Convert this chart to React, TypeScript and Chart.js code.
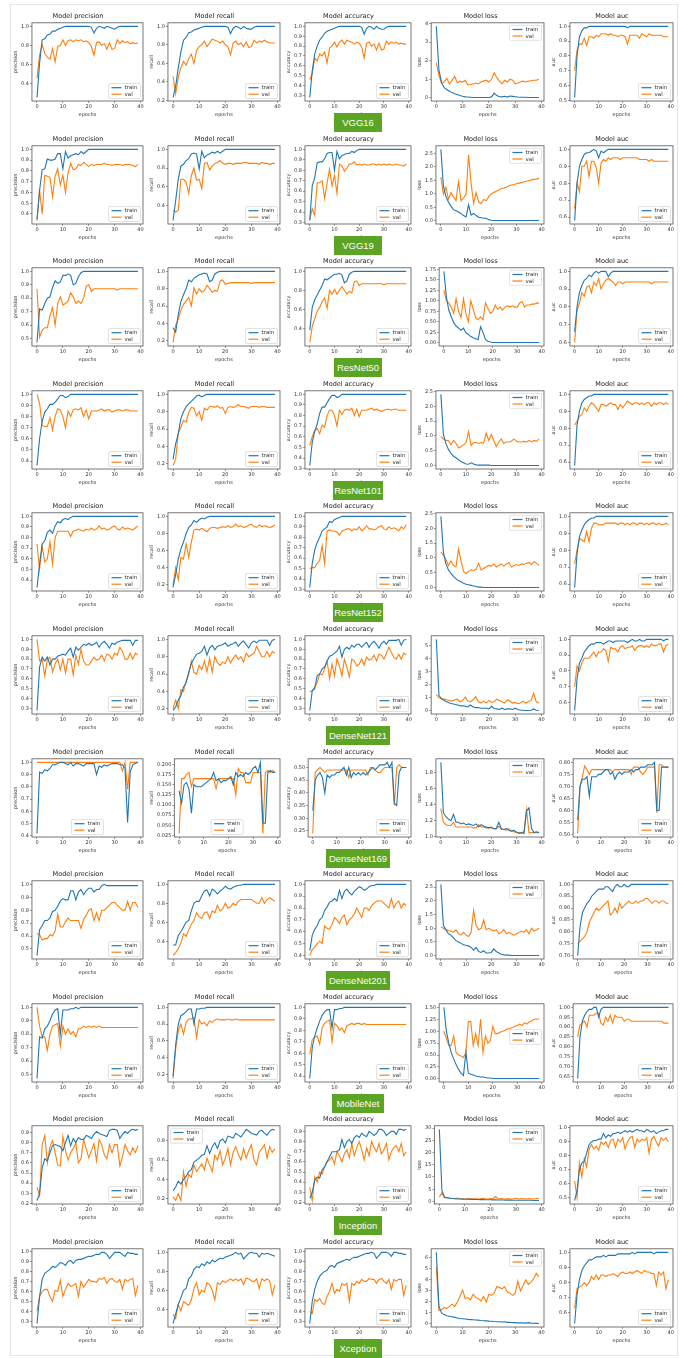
import React, { useEffect, useRef } from 'react';
import { Chart, registerables } from 'chart.js';
Chart.register(...registerables);

// ---------- categories / labels ----------
const MODELS = ['VGG16', 'VGG19', 'ResNet50', 'ResNet101', 'ResNet152', 'DenseNet121', 'DenseNet169', 'DenseNet201', 'MobileNet', 'Inception', 'Xception'];
const METRICS = ['precision', 'recall', 'accuracy', 'loss', 'auc'];
const SERIES = ['train', 'val'];
const EPOCH_TICKS = [0, 10, 20, 30, 40];

// ---------- VGG16 ----------
const v16PrecTrain = [0.26,0.62,0.86,0.87,0.91,0.92,0.95,0.95,0.97,0.98, 0.99,1.0,1.0,1.0,1.0,1.0,1.0,1.0,1.0,1.0, 1.0,0.99,0.93,0.98,1.0,0.99,0.98,1.0,0.99,0.98, 0.97,0.99,1.0,1.0,1.0,1.0,1.0,1.0,1.0,1.0];
const v16PrecVal = [0.46,0.70,0.81,0.72,0.68,0.66,0.77,0.63,0.79,0.80, 0.86,0.80,0.85,0.86,0.84,0.86,0.85,0.86,0.84,0.85, 0.83,0.79,0.70,0.83,0.84,0.80,0.82,0.76,0.83,0.76, 0.77,0.86,0.82,0.85,0.83,0.84,0.82,0.83,0.82,0.83];
const v16RecTrain = [0.23,0.35,0.55,0.72,0.85,0.88,0.93,0.94,0.96,0.97, 0.98,0.99,1.0,1.0,1.0,1.0,1.0,1.0,1.0,1.0, 1.0,0.99,0.92,0.98,1.0,0.99,0.97,1.0,0.98,0.97, 0.97,0.99,1.0,1.0,1.0,1.0,1.0,1.0,1.0,1.0];
const v16RecVal = [0.46,0.27,0.45,0.55,0.62,0.58,0.65,0.70,0.60,0.74, 0.78,0.80,0.84,0.78,0.82,0.86,0.85,0.84,0.82,0.84, 0.80,0.78,0.69,0.82,0.84,0.80,0.82,0.78,0.83,0.77, 0.78,0.85,0.82,0.84,0.83,0.85,0.83,0.82,0.82,0.82];
const v16AccTrain = [0.28,0.55,0.72,0.80,0.86,0.89,0.93,0.95,0.96,0.97, 0.98,0.99,1.0,1.0,1.0,1.0,1.0,1.0,1.0,1.0, 1.0,0.99,0.92,0.98,1.0,0.99,0.97,1.0,0.98,0.97, 0.97,0.99,1.0,1.0,1.0,1.0,1.0,1.0,1.0,1.0];
const v16AccVal = [0.46,0.52,0.68,0.65,0.72,0.70,0.74,0.63,0.78,0.80, 0.84,0.79,0.84,0.86,0.82,0.86,0.85,0.84,0.82,0.84, 0.83,0.79,0.68,0.83,0.84,0.80,0.82,0.76,0.83,0.76, 0.77,0.85,0.82,0.84,0.83,0.84,0.82,0.83,0.82,0.82];
const v16LossTrain = [3.85,1.5,0.8,0.55,0.45,0.35,0.28,0.22,0.18,0.12, 0.08,0.05,0.04,0.03,0.02,0.02,0.02,0.02,0.02,0.02, 0.02,0.05,0.25,0.12,0.06,0.05,0.08,0.04,0.1,0.08, 0.06,0.04,0.03,0.03,0.03,0.02,0.02,0.02,0.02,0.02];
const v16LossVal = [1.9,1.2,0.8,0.85,1.05,0.75,0.95,1.15,0.8,0.9, 0.85,0.95,0.7,0.72,0.75,0.8,0.75,0.85,0.9,0.95, 0.85,1.0,1.35,1.1,0.9,0.75,0.95,0.85,1.0,0.95, 0.75,0.8,0.85,0.9,0.85,0.9,0.92,0.95,0.95,1.0];
const v16AucTrain = [0.52,0.80,0.93,0.97,0.99,0.99,1.0,1.0,1.0,1.0, 1.0,1.0,1.0,1.0,1.0,1.0,1.0,1.0,1.0,1.0, 1.0,1.0,0.99,1.0,1.0,1.0,1.0,1.0,1.0,1.0, 1.0,1.0,1.0,1.0,1.0,1.0,1.0,1.0,1.0,1.0];
const v16AucVal = [0.70,0.84,0.88,0.88,0.92,0.87,0.93,0.93,0.92,0.94, 0.93,0.95,0.95,0.95,0.94,0.95,0.94,0.94,0.93,0.94, 0.94,0.93,0.88,0.94,0.94,0.94,0.94,0.92,0.95,0.94, 0.93,0.95,0.94,0.94,0.94,0.94,0.94,0.93,0.93,0.93];
const v16Ticks = [[0.4,0.6,0.8,1.0],[0.2,0.4,0.6,0.8,1.0],[0.3,0.4,0.5,0.6,0.7,0.8,0.9,1.0],[0,1,2,3,4],[0.5,0.6,0.7,0.8,0.9,1.0]];

// ---------- VGG19 ----------
const v19PrecTrain = [0.35,0.62,0.81,0.82,0.91,0.90,0.90,0.91,0.96,0.96, 0.82,0.98,0.92,0.94,0.95,0.96,0.95,0.98,0.96,0.98, 1.0,1.0,1.0,1.0,1.0,1.0,1.0,1.0,1.0,1.0, 1.0,1.0,1.0,1.0,1.0,1.0,1.0,1.0,1.0,1.0];
const v19PrecVal = [0.34,0.62,0.40,0.76,0.75,0.74,0.56,0.75,0.82,0.67, 0.76,0.60,0.78,0.87,0.81,0.82,0.86,0.85,0.88,0.86, 0.84,0.86,0.85,0.86,0.86,0.86,0.87,0.86,0.86,0.85, 0.86,0.86,0.86,0.85,0.86,0.86,0.86,0.85,0.84,0.86];
const v19RecTrain = [0.24,0.45,0.68,0.82,0.84,0.88,0.90,0.95,0.96,0.95, 0.79,0.98,0.91,0.94,0.95,0.97,0.96,0.98,0.96,0.98, 1.0,1.0,1.0,1.0,1.0,1.0,1.0,1.0,1.0,1.0, 1.0,1.0,1.0,1.0,1.0,1.0,1.0,1.0,1.0,1.0];
const v19RecVal = [0.35,0.33,0.35,0.68,0.68,0.65,0.53,0.72,0.80,0.67, 0.68,0.58,0.85,0.86,0.78,0.82,0.85,0.86,0.88,0.85, 0.84,0.85,0.85,0.84,0.85,0.85,0.85,0.86,0.86,0.85, 0.85,0.85,0.85,0.84,0.86,0.85,0.85,0.84,0.85,0.85];
const v19AccTrain = [0.32,0.65,0.73,0.87,0.88,0.88,0.91,0.96,0.97,0.97, 0.80,0.98,0.91,0.94,0.95,0.96,0.96,0.98,0.97,0.99, 1.0,1.0,1.0,1.0,1.0,1.0,1.0,1.0,1.0,1.0, 1.0,1.0,1.0,1.0,1.0,1.0,1.0,1.0,1.0,1.0];
const v19AccVal = [0.33,0.43,0.37,0.68,0.68,0.70,0.53,0.68,0.81,0.65, 0.75,0.58,0.86,0.84,0.79,0.82,0.86,0.86,0.88,0.85, 0.86,0.85,0.86,0.85,0.85,0.86,0.86,0.85,0.86,0.85, 0.86,0.85,0.86,0.85,0.85,0.86,0.85,0.85,0.84,0.86];
const v19LossTrain = [2.65,1.3,0.9,0.7,0.55,0.42,0.38,0.33,0.28,0.2, 0.15,0.6,0.22,0.28,0.2,0.14,0.12,0.1,0.1,0.05, 0.03,0.02,0.02,0.02,0.02,0.02,0.02,0.02,0.02,0.02, 0.02,0.02,0.02,0.02,0.02,0.02,0.02,0.02,0.02,0.02];
const v19LossVal = [1.62,1.0,1.25,0.8,1.05,0.9,0.75,1.45,0.75,0.85, 1.0,2.45,1.4,0.65,1.05,0.7,0.65,0.8,0.75,0.9, 1.0,1.05,1.1,1.15,1.2,1.22,1.25,1.3,1.33,1.35, 1.38,1.4,1.42,1.45,1.47,1.5,1.52,1.54,1.55,1.58];
const v19AucTrain = [0.58,0.80,0.90,0.94,0.97,0.98,0.98,0.99,1.0,0.99, 0.95,0.99,0.98,0.99,1.0,1.0,1.0,1.0,1.0,1.0, 1.0,1.0,1.0,1.0,1.0,1.0,1.0,1.0,1.0,1.0, 1.0,1.0,1.0,1.0,1.0,1.0,1.0,1.0,1.0,1.0];
const v19AucVal = [0.65,0.80,0.75,0.90,0.90,0.93,0.84,0.93,0.93,0.89, 0.80,0.92,0.94,0.93,0.95,0.94,0.95,0.95,0.95,0.94, 0.95,0.95,0.95,0.95,0.95,0.95,0.95,0.94,0.94,0.94, 0.94,0.93,0.94,0.93,0.93,0.93,0.93,0.93,0.93,0.93];
const v19Ticks = [[0.4,0.5,0.6,0.7,0.8,0.9,1.0],[0.2,0.4,0.6,0.8,1.0],[0.3,0.4,0.5,0.6,0.7,0.8,0.9,1.0],[0.0,0.5,1.0,1.5,2.0,2.5],[0.6,0.7,0.8,0.9,1.0]];

// ---------- ResNet50 ----------
const r50PrecTrain = [0.47,0.72,0.71,0.76,0.80,0.81,0.88,0.93,0.91,0.92, 0.97,0.97,0.98,0.97,0.90,0.91,0.96,0.99,1.0,1.0, 1.0,1.0,1.0,1.0,1.0,1.0,1.0,1.0,1.0,1.0, 1.0,1.0,1.0,1.0,1.0,1.0,1.0,1.0,1.0,1.0];
const r50PrecVal = [0.87,0.51,0.56,0.58,0.58,0.67,0.73,0.60,0.76,0.81, 0.75,0.76,0.78,0.84,0.81,0.76,0.78,0.76,0.80,0.89, 0.90,0.85,0.87,0.87,0.87,0.87,0.87,0.87,0.87,0.87, 0.87,0.86,0.87,0.87,0.87,0.87,0.87,0.87,0.87,0.87];
const r50RecTrain = [0.35,0.30,0.50,0.65,0.73,0.80,0.90,0.88,0.92,0.94, 0.96,0.97,0.98,0.97,0.88,0.90,0.97,0.99,1.0,1.0, 1.0,1.0,1.0,1.0,1.0,1.0,1.0,1.0,1.0,1.0, 1.0,1.0,1.0,1.0,1.0,1.0,1.0,1.0,1.0,1.0];
const r50RecVal = [0.18,0.38,0.45,0.55,0.62,0.66,0.70,0.60,0.81,0.74, 0.80,0.76,0.78,0.84,0.80,0.76,0.78,0.77,0.89,0.90, 0.85,0.86,0.87,0.87,0.87,0.87,0.87,0.87,0.87,0.87, 0.86,0.87,0.87,0.87,0.87,0.87,0.87,0.87,0.87,0.87];
const r50AccTrain = [0.38,0.62,0.70,0.75,0.80,0.85,0.92,0.91,0.93,0.95, 0.97,0.97,0.98,0.96,0.88,0.90,0.97,0.99,1.0,1.0, 1.0,1.0,1.0,1.0,1.0,1.0,1.0,1.0,1.0,1.0, 1.0,1.0,1.0,1.0,1.0,1.0,1.0,1.0,1.0,1.0];
const r50AccVal = [0.25,0.42,0.50,0.58,0.62,0.68,0.72,0.61,0.80,0.76, 0.81,0.76,0.80,0.84,0.80,0.76,0.79,0.77,0.89,0.90, 0.85,0.87,0.87,0.87,0.87,0.87,0.87,0.87,0.87,0.87, 0.86,0.87,0.87,0.87,0.87,0.87,0.87,0.87,0.87,0.87];
const r50LossTrain = [1.7,1.1,0.78,0.62,0.48,0.4,0.35,0.3,0.35,0.24, 0.2,0.15,0.12,0.1,0.08,0.38,0.25,0.08,0.04,0.02, 0.01,0.01,0.01,0.01,0.01,0.01,0.01,0.01,0.01,0.01, 0.01,0.01,0.01,0.01,0.01,0.01,0.01,0.01,0.01,0.01];
const r50LossVal = [1.25,1.0,0.95,0.85,0.7,1.05,0.75,0.6,1.05,0.7, 0.5,1.0,0.8,0.6,0.55,0.62,0.55,0.95,0.82,0.7, 0.75,0.9,0.8,0.85,0.78,0.85,0.88,0.85,0.88,0.85, 0.85,0.95,0.98,0.85,0.9,0.9,0.92,0.92,0.95,0.94];
const r50AucTrain = [0.66,0.80,0.88,0.92,0.95,0.96,0.98,0.97,0.99,1.0, 0.99,1.0,1.0,1.0,0.97,0.99,1.0,1.0,1.0,1.0, 1.0,1.0,1.0,1.0,1.0,1.0,1.0,1.0,1.0,1.0, 1.0,1.0,1.0,1.0,1.0,1.0,1.0,1.0,1.0,1.0];
const r50AucVal = [0.60,0.78,0.82,0.88,0.86,0.91,0.92,0.88,0.94,0.92, 0.96,0.90,0.93,0.95,0.96,0.95,0.94,0.92,0.94,0.94, 0.93,0.94,0.94,0.94,0.94,0.94,0.94,0.94,0.94,0.94, 0.94,0.94,0.93,0.94,0.94,0.94,0.94,0.94,0.94,0.94];
const r50Ticks = [[0.5,0.6,0.7,0.8,0.9,1.0],[0.2,0.4,0.6,0.8,1.0],[0.4,0.6,0.8,1.0],[0.0,0.25,0.5,0.75,1.0,1.25,1.5,1.75],[0.6,0.7,0.8,0.9,1.0]];

// ---------- ResNet101 ----------
const r101PrecTrain = [0.36,0.60,0.76,0.84,0.87,0.91,0.91,0.93,0.96,0.99, 0.99,0.97,0.98,1.0,1.0,1.0,1.0,1.0,1.0,1.0, 1.0,1.0,1.0,1.0,1.0,1.0,1.0,1.0,1.0,1.0, 1.0,1.0,1.0,1.0,1.0,1.0,1.0,1.0,1.0,1.0];
const r101PrecVal = [1.0,0.92,0.72,0.71,0.71,0.79,0.68,0.80,0.87,0.86, 0.80,0.70,0.85,0.80,0.86,0.87,0.86,0.88,0.80,0.86, 0.78,0.85,0.85,0.85,0.86,0.87,0.85,0.86,0.86,0.84, 0.85,0.86,0.86,0.85,0.86,0.86,0.85,0.85,0.85,0.85];
const r101RecTrain = [0.25,0.43,0.55,0.72,0.80,0.86,0.89,0.92,0.95,0.98, 0.99,0.97,0.99,1.0,1.0,1.0,1.0,1.0,1.0,1.0, 1.0,1.0,1.0,1.0,1.0,1.0,1.0,1.0,1.0,1.0, 1.0,1.0,1.0,1.0,1.0,1.0,1.0,1.0,1.0,1.0];
const r101RecVal = [0.18,0.25,0.55,0.62,0.70,0.68,0.79,0.85,0.84,0.75, 0.80,0.70,0.84,0.82,0.86,0.86,0.85,0.87,0.84,0.85, 0.78,0.85,0.86,0.85,0.86,0.88,0.86,0.86,0.85,0.84, 0.86,0.86,0.86,0.85,0.86,0.86,0.85,0.85,0.85,0.85];
const r101AccTrain = [0.33,0.55,0.65,0.72,0.82,0.88,0.88,0.92,0.96,0.99, 0.99,0.97,0.98,1.0,1.0,1.0,1.0,1.0,1.0,1.0, 1.0,1.0,1.0,1.0,1.0,1.0,1.0,1.0,1.0,1.0, 1.0,1.0,1.0,1.0,1.0,1.0,1.0,1.0,1.0,1.0];
const r101AccVal = [0.52,0.60,0.66,0.68,0.63,0.71,0.69,0.80,0.85,0.85, 0.80,0.70,0.85,0.81,0.85,0.86,0.85,0.87,0.80,0.86, 0.79,0.85,0.85,0.85,0.86,0.87,0.85,0.86,0.85,0.84, 0.85,0.86,0.86,0.85,0.86,0.86,0.85,0.85,0.85,0.85];
const r101LossTrain = [2.4,1.05,0.75,0.55,0.42,0.32,0.27,0.2,0.14,0.1, 0.06,0.05,0.1,0.06,0.03,0.02,0.02,0.02,0.02,0.02, 0.01,0.01,0.01,0.01,0.01,0.01,0.01,0.01,0.01,0.01, 0.01,0.01,0.01,0.01,0.01,0.01,0.01,0.01,0.01,0.01];
const r101LossVal = [0.98,0.9,0.85,0.85,0.7,0.85,0.75,0.6,0.65,0.7, 0.78,1.15,0.68,0.78,0.78,0.75,0.78,0.76,1.1,0.85, 1.05,0.85,0.65,0.8,0.9,0.75,0.8,0.8,0.82,0.9, 0.82,0.8,0.8,0.82,0.8,0.85,0.8,0.85,0.82,0.9];
const r101AucTrain = [0.58,0.82,0.90,0.95,0.97,0.98,0.99,0.99,1.0,1.0, 1.0,1.0,1.0,1.0,1.0,1.0,1.0,1.0,1.0,1.0, 1.0,1.0,1.0,1.0,1.0,1.0,1.0,1.0,1.0,1.0, 1.0,1.0,1.0,1.0,1.0,1.0,1.0,1.0,1.0,1.0];
const r101AucVal = [0.82,0.84,0.87,0.88,0.92,0.90,0.93,0.95,0.94,0.92, 0.90,0.94,0.94,0.93,0.94,0.95,0.94,0.94,0.91,0.94, 0.92,0.94,0.96,0.95,0.94,0.95,0.95,0.94,0.95,0.94, 0.95,0.95,0.93,0.95,0.94,0.95,0.95,0.94,0.95,0.94];
const r101Ticks = [[0.4,0.5,0.6,0.7,0.8,0.9,1.0],[0.2,0.4,0.6,0.8,1.0],[0.3,0.4,0.5,0.6,0.7,0.8,0.9,1.0],[0.0,0.5,1.0,1.5,2.0,2.5],[0.6,0.7,0.8,0.9,1.0]];

// ---------- ResNet152 ----------
const r152PrecTrain = [0.33,0.55,0.74,0.77,0.85,0.87,0.84,0.91,0.95,0.94, 0.97,0.98,0.97,0.99,1.0,1.0,1.0,1.0,1.0,1.0, 1.0,1.0,1.0,1.0,1.0,1.0,1.0,1.0,1.0,1.0, 1.0,1.0,1.0,1.0,1.0,1.0,1.0,1.0,1.0,1.0];
const r152PrecVal = [0.74,0.50,0.72,0.57,0.60,0.76,0.55,0.80,0.86,0.86, 0.86,0.86,0.86,0.81,0.86,0.87,0.88,0.87,0.86,0.88, 0.87,0.89,0.87,0.88,0.91,0.88,0.89,0.87,0.88,0.90, 0.91,0.88,0.87,0.90,0.88,0.89,0.88,0.87,0.89,0.91];
const r152RecTrain = [0.17,0.32,0.50,0.62,0.70,0.80,0.87,0.90,0.95,0.93, 0.96,0.98,0.97,0.99,1.0,1.0,1.0,1.0,1.0,1.0, 1.0,1.0,1.0,1.0,1.0,1.0,1.0,1.0,1.0,1.0, 1.0,1.0,1.0,1.0,1.0,1.0,1.0,1.0,1.0,1.0];
const r152RecVal = [0.20,0.40,0.26,0.52,0.50,0.68,0.52,0.70,0.84,0.85, 0.84,0.86,0.84,0.82,0.86,0.87,0.87,0.86,0.87,0.88, 0.87,0.89,0.87,0.88,0.91,0.88,0.89,0.87,0.88,0.90, 0.91,0.88,0.87,0.90,0.88,0.89,0.88,0.87,0.88,0.90];
const r152AccTrain = [0.32,0.55,0.68,0.75,0.80,0.86,0.88,0.90,0.95,0.94, 0.97,0.98,0.99,1.0,1.0,1.0,1.0,1.0,1.0,1.0, 1.0,1.0,1.0,1.0,1.0,1.0,1.0,1.0,1.0,1.0, 1.0,1.0,1.0,1.0,1.0,1.0,1.0,1.0,1.0,1.0];
const r152AccVal = [0.50,0.51,0.51,0.55,0.58,0.72,0.55,0.86,0.87,0.86, 0.86,0.85,0.82,0.86,0.87,0.88,0.88,0.86,0.88,0.87, 0.90,0.86,0.88,0.91,0.88,0.88,0.87,0.88,0.90,0.91, 0.88,0.87,0.90,0.88,0.89,0.88,0.86,0.90,0.88,0.92];
const r152LossTrain = [2.4,1.2,0.8,0.6,0.48,0.38,0.3,0.24,0.2,0.15, 0.12,0.1,0.08,0.06,0.04,0.02,0.02,0.01,0.01,0.01, 0.01,0.01,0.01,0.01,0.01,0.01,0.01,0.01,0.01,0.01, 0.01,0.01,0.01,0.01,0.01,0.01,0.01,0.01,0.01,0.01];
const r152LossVal = [1.2,1.1,0.95,0.75,0.9,0.75,0.7,1.3,0.9,0.55, 0.48,0.55,0.6,0.58,0.62,0.82,0.6,0.65,0.7,0.75, 0.72,0.8,0.7,0.75,0.8,0.72,0.8,0.85,0.7,0.75, 0.78,0.75,0.8,0.78,0.82,0.85,0.78,0.88,0.82,0.75];
const r152AucTrain = [0.58,0.78,0.88,0.92,0.95,0.97,0.98,0.99,0.99,1.0, 1.0,1.0,1.0,1.0,1.0,1.0,1.0,1.0,1.0,1.0, 1.0,1.0,1.0,1.0,1.0,1.0,1.0,1.0,1.0,1.0, 1.0,1.0,1.0,1.0,1.0,1.0,1.0,1.0,1.0,1.0];
const r152AucVal = [0.72,0.80,0.87,0.86,0.85,0.91,0.85,0.93,0.96,0.96, 0.95,0.95,0.95,0.96,0.96,0.96,0.96,0.96,0.95,0.96, 0.96,0.95,0.96,0.95,0.96,0.96,0.95,0.96,0.96,0.95, 0.96,0.95,0.96,0.96,0.95,0.96,0.95,0.95,0.96,0.95];
const r152Ticks = [[0.4,0.5,0.6,0.7,0.8,0.9,1.0],[0.2,0.4,0.6,0.8,1.0],[0.3,0.4,0.5,0.6,0.7,0.8,0.9,1.0],[0.0,0.5,1.0,1.5,2.0,2.5],[0.6,0.7,0.8,0.9,1.0]];

// ---------- DenseNet121 ----------
const d121PrecTrain = [0.28,0.72,0.82,0.78,0.82,0.74,0.80,0.80,0.83,0.84, 0.85,0.84,0.88,0.91,0.82,0.92,0.89,0.92,0.95,0.94, 0.96,0.94,0.95,0.97,0.92,0.96,0.98,0.95,0.91,0.96, 0.95,0.97,0.98,0.99,0.99,0.99,0.99,0.94,0.99,0.99];
const d121PrecVal = [1.0,0.78,0.80,0.63,0.80,0.82,0.67,0.75,0.80,0.69, 0.80,0.66,0.80,0.80,0.64,0.84,0.75,0.90,0.78,0.74, 0.74,0.78,0.82,0.79,0.80,0.84,0.78,0.85,0.84,0.80, 0.86,0.84,0.92,0.88,0.80,0.80,0.86,0.80,0.86,0.84];
const d121RecTrain = [0.18,0.22,0.30,0.35,0.45,0.50,0.62,0.72,0.78,0.83, 0.84,0.86,0.92,0.82,0.90,0.93,0.88,0.92,0.93,0.94, 0.96,0.92,0.94,0.95,0.97,0.92,0.96,0.98,0.94,0.90, 0.96,0.98,0.96,0.99,0.99,0.99,0.99,0.93,0.99,1.0];
const d121RecVal = [0.20,0.30,0.20,0.42,0.40,0.52,0.60,0.75,0.62,0.60, 0.70,0.65,0.75,0.63,0.78,0.62,0.80,0.73,0.70,0.74, 0.72,0.80,0.73,0.78,0.82,0.77,0.80,0.74,0.84,0.80, 0.82,0.84,0.92,0.86,0.80,0.80,0.86,0.80,0.86,0.84];
const d121AccTrain = [0.28,0.48,0.50,0.63,0.65,0.70,0.72,0.78,0.83,0.84, 0.86,0.88,0.93,0.82,0.90,0.92,0.90,0.94,0.92,0.95, 0.95,0.92,0.95,0.97,0.92,0.96,0.98,0.95,0.91,0.96, 0.98,0.95,0.99,0.99,0.99,0.99,1.0,0.94,0.99,1.0];
const d121AccVal = [0.47,0.48,0.52,0.56,0.65,0.64,0.70,0.78,0.60,0.75, 0.63,0.80,0.73,0.63,0.80,0.72,0.62,0.80,0.78,0.73, 0.75,0.80,0.74,0.82,0.79,0.80,0.84,0.78,0.85,0.84, 0.80,0.86,0.92,0.87,0.82,0.80,0.85,0.80,0.86,0.84];
const d121LossTrain = [5.5,1.2,0.9,0.8,0.7,0.6,0.55,0.5,0.45,0.4, 0.38,0.35,0.3,0.45,0.3,0.25,0.25,0.2,0.2,0.2, 0.15,0.35,0.18,0.15,0.1,0.2,0.1,0.15,0.15,0.1, 0.2,0.1,0.05,0.05,0.03,0.03,0.05,0.15,0.05,0.03];
const d121LossVal = [1.25,1.0,0.95,0.9,0.85,0.8,0.75,0.85,0.9,0.7, 0.8,1.05,0.75,0.7,0.85,1.1,0.7,0.6,0.75,0.6, 0.8,0.65,0.7,0.9,0.8,0.7,0.6,0.85,0.75,0.6, 0.65,0.55,0.6,0.75,0.6,0.7,0.8,1.35,0.7,0.6];
const d121AucTrain = [0.55,0.75,0.85,0.88,0.92,0.94,0.96,0.97,0.97,0.98, 0.98,0.98,0.97,0.98,0.99,0.99,0.98,0.99,0.99,0.99, 0.99,0.99,0.98,0.99,1.0,0.99,0.99,1.0,0.99,0.99, 1.0,1.0,1.0,1.0,1.0,1.0,1.0,0.99,1.0,1.0];
const d121AucVal = [0.70,0.83,0.80,0.85,0.88,0.88,0.88,0.90,0.92,0.89, 0.92,0.92,0.94,0.93,0.86,0.95,0.94,0.94,0.92,0.95, 0.96,0.94,0.95,0.95,0.96,0.93,0.95,0.96,0.96,0.95, 0.96,0.95,0.97,0.96,0.96,0.97,0.97,0.92,0.96,0.97];
const d121Ticks = [[0.3,0.4,0.5,0.6,0.7,0.8,0.9,1.0],[0.2,0.4,0.6,0.8,1.0],[0.3,0.4,0.5,0.6,0.7,0.8,0.9,1.0],[0,1,2,3,4,5],[0.6,0.7,0.8,0.9,1.0]];

// ---------- DenseNet169 ----------
const d169PrecTrain = [0.42,0.92,0.91,0.94,0.93,0.95,0.98,0.98,0.99,1.0, 1.0,0.99,0.98,1.0,0.97,0.99,0.99,0.98,0.97,0.99, 0.99,0.99,0.99,0.90,0.97,0.96,0.98,0.97,0.98,0.99, 0.99,0.99,0.98,0.98,0.95,0.51,0.92,0.98,0.99,1.0];
const d169PrecVal = [1.0,1.0,1.0,1.0,1.0,1.0,1.0,1.0,1.0,1.0, 1.0,1.0,1.0,1.0,1.0,1.0,1.0,1.0,1.0,1.0, 1.0,1.0,1.0,1.0,1.0,1.0,1.0,1.0,1.0,1.0, 1.0,1.0,1.0,0.93,1.0,0.78,1.0,1.0,1.0,1.0];
const d169RecTrain = [0.135,0.105,0.15,0.155,0.14,0.08,0.15,0.145,0.145,0.145, 0.15,0.155,0.16,0.165,0.18,0.16,0.165,0.155,0.16,0.16, 0.165,0.17,0.15,0.18,0.17,0.175,0.17,0.18,0.175,0.18, 0.19,0.195,0.18,0.205,0.055,0.055,0.18,0.185,0.18,0.18];
const d169RecVal = [0.03,0.165,0.165,0.175,0.18,0.145,0.165,0.165,0.165,0.165, 0.165,0.165,0.165,0.165,0.165,0.14,0.165,0.165,0.165,0.165, 0.165,0.165,0.165,0.125,0.19,0.18,0.18,0.155,0.155,0.155, 0.18,0.18,0.18,0.18,0.03,0.18,0.185,0.18,0.185,0.18];
const d169AccTrain = [0.33,0.45,0.47,0.48,0.46,0.40,0.47,0.46,0.47,0.47, 0.48,0.48,0.49,0.50,0.47,0.50,0.46,0.48,0.47,0.48, 0.47,0.48,0.47,0.48,0.49,0.50,0.49,0.50,0.51,0.51, 0.51,0.52,0.50,0.52,0.36,0.35,0.48,0.50,0.50,0.50];
const d169AccVal = [0.24,0.48,0.49,0.50,0.49,0.48,0.49,0.49,0.49,0.49, 0.49,0.49,0.49,0.49,0.49,0.46,0.49,0.49,0.49,0.49, 0.49,0.49,0.49,0.47,0.50,0.50,0.49,0.48,0.48,0.49, 0.50,0.50,0.50,0.50,0.35,0.50,0.51,0.50,0.50,0.50];
const d169LossTrain = [1.93,1.3,1.25,1.22,1.2,1.28,1.18,1.18,1.16,1.17, 1.15,1.16,1.15,1.14,1.16,1.12,1.15,1.13,1.12,1.11, 1.12,1.1,1.1,1.18,1.1,1.09,1.1,1.08,1.07,1.08, 1.06,1.04,1.05,1.04,1.32,1.36,1.1,1.05,1.06,1.05];
const d169LossVal = [1.35,1.18,1.15,1.14,1.14,1.18,1.12,1.12,1.12,1.12, 1.12,1.12,1.12,1.11,1.11,1.15,1.12,1.12,1.11,1.11, 1.11,1.1,1.1,1.13,1.09,1.09,1.08,1.1,1.07,1.06, 1.05,1.05,1.05,1.06,1.34,1.05,1.05,1.05,1.05,1.05];
const d169AucTrain = [0.56,0.70,0.73,0.73,0.74,0.66,0.74,0.74,0.74,0.75, 0.75,0.76,0.77,0.77,0.75,0.76,0.73,0.75,0.76,0.75, 0.76,0.76,0.76,0.77,0.76,0.77,0.77,0.78,0.78,0.78, 0.79,0.79,0.79,0.80,0.60,0.60,0.78,0.78,0.78,0.78];
const d169AucVal = [0.505,0.70,0.74,0.785,0.77,0.75,0.77,0.77,0.77,0.77, 0.77,0.77,0.77,0.77,0.77,0.76,0.77,0.77,0.77,0.77, 0.77,0.77,0.77,0.75,0.78,0.78,0.78,0.76,0.75,0.76, 0.78,0.78,0.78,0.78,0.59,0.79,0.79,0.78,0.78,0.78];
const d169Ticks = [[0.4,0.5,0.6,0.7,0.8,0.9,1.0],[0.025,0.05,0.075,0.1,0.125,0.15,0.175,0.2],[0.25,0.3,0.35,0.4,0.45,0.5],[1.0,1.2,1.4,1.6,1.8],[0.5,0.55,0.6,0.65,0.7,0.75,0.8]];

// ---------- DenseNet201 ----------
const d201PrecTrain = [0.45,0.65,0.68,0.72,0.72,0.74,0.79,0.80,0.83,0.87, 0.89,0.88,0.88,0.95,0.95,0.88,0.94,0.96,0.92,0.95, 0.97,0.97,0.94,0.96,0.96,0.99,1.0,0.99,0.99,0.99, 0.99,0.99,0.99,0.99,0.99,0.99,0.99,0.99,0.99,0.99];
const d201PrecVal = [0.62,0.61,0.57,0.58,0.58,0.61,0.60,0.64,0.77,0.67, 0.67,0.71,0.74,0.72,0.72,0.72,0.72,0.66,0.73,0.76, 0.80,0.81,0.72,0.78,0.72,0.80,0.80,0.82,0.84,0.86, 0.86,0.84,0.82,0.80,0.80,0.87,0.80,0.86,0.86,0.82];
const d201RecTrain = [0.36,0.36,0.46,0.50,0.55,0.60,0.62,0.72,0.80,0.82, 0.82,0.88,0.93,0.94,0.88,0.95,0.93,0.90,0.93,0.95, 0.98,0.96,0.95,0.97,0.98,0.99,0.99,1.0,1.0,1.0, 1.0,1.0,1.0,1.0,1.0,1.0,1.0,1.0,1.0,1.0];
const d201RecVal = [0.25,0.28,0.32,0.38,0.48,0.45,0.52,0.58,0.62,0.70, 0.66,0.64,0.70,0.71,0.64,0.72,0.70,0.78,0.72,0.74, 0.80,0.75,0.76,0.80,0.78,0.82,0.84,0.84,0.84,0.84, 0.84,0.82,0.80,0.80,0.86,0.80,0.84,0.86,0.84,0.82];
const d201AccTrain = [0.44,0.57,0.62,0.65,0.70,0.72,0.78,0.81,0.85,0.86, 0.88,0.86,0.95,0.88,0.94,0.96,0.93,0.91,0.94,0.96, 0.98,0.97,0.95,0.96,0.98,0.99,0.99,1.0,1.0,1.0, 1.0,1.0,1.0,1.0,1.0,1.0,1.0,1.0,1.0,1.0];
const d201AccVal = [0.40,0.45,0.47,0.50,0.52,0.50,0.65,0.63,0.62,0.66, 0.72,0.70,0.67,0.72,0.74,0.66,0.70,0.72,0.75,0.80, 0.76,0.72,0.80,0.80,0.78,0.82,0.84,0.86,0.86,0.86, 0.84,0.82,0.80,0.88,0.80,0.84,0.86,0.80,0.84,0.82];
const d201LossTrain = [2.6,1.1,0.95,0.8,0.75,0.65,0.55,0.5,0.45,0.4, 0.38,0.35,0.3,0.2,0.3,0.15,0.12,0.18,0.1,0.1, 0.12,0.25,0.15,0.1,0.05,0.03,0.02,0.02,0.01,0.01, 0.01,0.01,0.01,0.01,0.01,0.01,0.01,0.01,0.01,0.01];
const d201LossVal = [1.05,1.0,0.95,0.92,0.9,0.85,0.95,0.8,0.75,0.85, 0.75,0.7,0.85,1.65,1.1,0.95,1.0,1.3,0.95,1.0, 0.95,0.9,0.95,0.8,0.85,0.95,0.8,0.85,0.8,0.75, 0.8,0.85,0.9,0.85,0.95,0.8,1.0,0.9,0.95,1.0];
const d201AucTrain = [0.70,0.82,0.88,0.90,0.92,0.93,0.95,0.96,0.97,0.98, 0.98,0.98,0.99,0.99,0.98,0.97,0.99,1.0,0.99,0.99, 1.0,0.99,0.99,1.0,1.0,1.0,1.0,1.0,1.0,1.0, 1.0,1.0,1.0,1.0,1.0,1.0,1.0,1.0,1.0,1.0];
const d201AucVal = [0.75,0.76,0.77,0.78,0.80,0.84,0.86,0.88,0.90,0.89, 0.90,0.91,0.92,0.93,0.87,0.88,0.90,0.88,0.92,0.90, 0.91,0.92,0.93,0.92,0.92,0.93,0.92,0.93,0.93,0.94, 0.94,0.93,0.92,0.93,0.93,0.92,0.93,0.93,0.92,0.92];
const d201Ticks = [[0.5,0.6,0.7,0.8,0.9,1.0],[0.4,0.6,0.8,1.0],[0.4,0.5,0.6,0.7,0.8,0.9,1.0],[0.0,0.5,1.0,1.5,2.0,2.5],[0.7,0.75,0.8,0.85,0.9,0.95,1.0]];

// ---------- MobileNet ----------
const mbPrecTrain = [0.47,0.78,0.77,0.84,0.86,0.90,0.95,0.98,0.99,0.80, 0.98,0.98,0.98,0.99,0.99,1.0,0.99,1.0,1.0,1.0, 1.0,1.0,1.0,1.0,1.0,1.0,1.0,1.0,1.0,1.0, 1.0,1.0,1.0,1.0,1.0,1.0,1.0,1.0,1.0,1.0];
const mbPrecVal = [1.0,0.86,0.78,0.78,0.68,0.80,0.86,0.87,0.88,0.71, 0.86,0.80,0.84,0.80,0.82,0.78,0.84,0.84,0.86,0.85, 0.86,0.85,0.86,0.85,0.86,0.85,0.85,0.85,0.85,0.85, 0.85,0.85,0.85,0.85,0.85,0.85,0.85,0.85,0.85,0.85];
const mbRecTrain = [0.18,0.55,0.80,0.90,0.92,0.95,0.98,0.98,0.80,0.98, 0.98,0.99,0.99,1.0,1.0,1.0,1.0,1.0,1.0,1.0, 1.0,1.0,1.0,1.0,1.0,1.0,1.0,1.0,1.0,1.0, 1.0,1.0,1.0,1.0,1.0,1.0,1.0,1.0,1.0,1.0];
const mbRecVal = [0.15,0.50,0.72,0.80,0.68,0.82,0.86,0.86,0.88,0.64, 0.85,0.80,0.82,0.78,0.84,0.82,0.85,0.86,0.85,0.85, 0.85,0.86,0.85,0.85,0.86,0.85,0.85,0.85,0.85,0.85, 0.85,0.85,0.85,0.85,0.85,0.85,0.85,0.85,0.85,0.85];
const mbAccTrain = [0.38,0.65,0.75,0.82,0.88,0.93,0.96,0.98,0.98,0.82, 0.98,0.98,0.99,0.99,1.0,1.0,1.0,1.0,1.0,1.0, 1.0,1.0,1.0,1.0,1.0,1.0,1.0,1.0,1.0,1.0, 1.0,1.0,1.0,1.0,1.0,1.0,1.0,1.0,1.0,1.0];
const mbAccVal = [0.59,0.72,0.74,0.75,0.68,0.82,0.86,0.88,0.89,0.70, 0.86,0.84,0.80,0.82,0.78,0.84,0.85,0.86,0.85,0.86, 0.86,0.85,0.86,0.85,0.85,0.85,0.85,0.85,0.85,0.85, 0.85,0.85,0.85,0.85,0.85,0.85,0.85,0.85,0.85,0.85];
const mbLossTrain = [1.5,1.0,0.75,0.55,0.42,0.3,0.2,0.12,0.07,0.56, 0.12,0.1,0.08,0.06,0.05,0.04,0.04,0.03,0.02,0.02, 0.01,0.01,0.01,0.01,0.01,0.01,0.01,0.01,0.01,0.01, 0.01,0.01,0.01,0.01,0.01,0.01,0.01,0.01,0.01,0.01];
const mbLossVal = [1.0,0.85,0.7,0.7,0.9,0.55,0.5,0.48,0.45,0.55, 1.2,1.2,0.7,0.95,0.7,1.25,0.55,0.9,0.75,0.8, 1.1,0.95,0.95,0.98,1.0,1.02,1.05,1.05,1.08,1.1, 1.12,1.15,1.12,1.18,1.15,1.2,1.22,1.25,1.25,1.26];
const mbAucTrain = [0.64,0.85,0.93,0.96,0.98,0.99,0.99,1.0,1.0,0.95, 0.99,1.0,1.0,1.0,1.0,1.0,1.0,1.0,1.0,1.0, 1.0,1.0,1.0,1.0,1.0,1.0,1.0,1.0,1.0,1.0, 1.0,1.0,1.0,1.0,1.0,1.0,1.0,1.0,1.0,1.0];
const mbAucVal = [0.85,0.91,0.92,0.93,0.90,0.96,0.96,0.96,0.97,0.97, 0.92,0.91,0.95,0.93,0.96,0.92,0.96,0.95,0.95,0.95, 0.93,0.94,0.94,0.93,0.93,0.93,0.93,0.93,0.93,0.93, 0.93,0.93,0.93,0.93,0.93,0.93,0.93,0.92,0.92,0.92];
const mbTicks = [[0.5,0.6,0.7,0.8,0.9,1.0],[0.2,0.4,0.6,0.8,1.0],[0.4,0.5,0.6,0.7,0.8,0.9,1.0],[0.0,0.25,0.5,0.75,1.0,1.25,1.5],[0.65,0.7,0.75,0.8,0.85,0.9,0.95,1.0]];

// ---------- Inception ----------
const incPrecTrain = [0.23,0.30,0.55,0.64,0.62,0.70,0.77,0.78,0.77,0.76, 0.72,0.80,0.87,0.77,0.84,0.80,0.85,0.83,0.83,0.87, 0.86,0.84,0.88,0.91,0.89,0.88,0.87,0.86,0.92,0.93, 0.93,0.92,0.84,0.88,0.91,0.89,0.92,0.93,0.92,0.93];
const incPrecVal = [0.36,0.28,0.78,0.87,0.60,0.76,0.82,0.70,0.58,0.57, 0.86,0.72,0.63,0.70,0.74,0.80,0.60,0.64,0.83,0.74, 0.65,0.72,0.79,0.62,0.83,0.78,0.68,0.64,0.78,0.70, 0.78,0.78,0.57,0.66,0.78,0.72,0.68,0.75,0.70,0.77];
const incRecTrain = [0.28,0.32,0.38,0.35,0.40,0.43,0.48,0.50,0.58,0.60, 0.62,0.65,0.66,0.75,0.67,0.74,0.78,0.72,0.80,0.82, 0.78,0.85,0.84,0.83,0.88,0.86,0.84,0.88,0.92,0.90, 0.88,0.87,0.86,0.90,0.91,0.88,0.86,0.90,0.92,0.91];
const incRecVal = [0.22,0.18,0.25,0.18,0.48,0.33,0.45,0.42,0.55,0.48, 0.52,0.56,0.50,0.62,0.55,0.48,0.65,0.60,0.70,0.55, 0.62,0.72,0.55,0.68,0.74,0.66,0.60,0.72,0.62,0.70, 0.76,0.60,0.55,0.68,0.72,0.76,0.62,0.74,0.68,0.72];
const incAccTrain = [0.24,0.30,0.42,0.45,0.44,0.52,0.55,0.60,0.65,0.70, 0.70,0.70,0.72,0.82,0.74,0.80,0.82,0.78,0.84,0.86, 0.84,0.88,0.86,0.85,0.90,0.88,0.86,0.88,0.92,0.92, 0.90,0.86,0.88,0.90,0.90,0.87,0.92,0.92,0.91,0.92];
const incAccVal = [0.35,0.22,0.45,0.40,0.50,0.48,0.55,0.60,0.62,0.65, 0.58,0.70,0.66,0.60,0.68,0.72,0.64,0.78,0.66,0.74, 0.80,0.72,0.62,0.74,0.66,0.80,0.74,0.70,0.78,0.68, 0.72,0.78,0.62,0.70,0.74,0.76,0.70,0.78,0.66,0.70];
const incLossTrain = [29.5,4.5,1.8,1.5,1.3,1.2,1.1,1.0,1.0,0.95, 0.9,0.9,0.85,0.85,0.8,0.8,0.75,0.75,0.7,0.7, 0.7,0.65,0.65,0.6,0.6,0.6,0.55,0.55,0.55,0.5, 0.5,0.5,0.5,0.45,0.45,0.45,0.45,0.4,0.4,0.4];
const incLossVal = [1.8,3.5,1.5,1.6,1.4,1.3,1.2,1.4,1.2,1.1, 1.0,1.2,1.1,1.0,1.2,1.0,1.1,1.3,1.1,1.0, 1.2,1.1,2.0,1.0,1.2,1.1,1.0,1.2,1.0,1.1, 1.3,1.0,1.2,1.1,1.0,1.2,1.1,1.0,1.2,1.1];
const incAucTrain = [0.48,0.55,0.70,0.75,0.76,0.82,0.88,0.90,0.91,0.91, 0.92,0.92,0.96,0.93,0.95,0.94,0.96,0.96,0.97,0.96, 0.97,0.98,0.97,0.98,0.97,0.98,0.99,0.98,0.98,0.97, 0.99,0.98,0.97,0.98,0.96,0.97,0.98,0.98,0.99,0.99];
const incAucVal = [0.62,0.50,0.75,0.65,0.78,0.72,0.85,0.88,0.85,0.87, 0.84,0.90,0.88,0.90,0.86,0.91,0.92,0.86,0.92,0.90, 0.93,0.85,0.90,0.93,0.94,0.86,0.92,0.90,0.92,0.91, 0.93,0.82,0.92,0.94,0.90,0.87,0.93,0.91,0.93,0.90];
const incTicks = [[0.2,0.3,0.4,0.5,0.6,0.7,0.8,0.9],[0.2,0.4,0.6,0.8],[0.2,0.3,0.4,0.5,0.6,0.7,0.8,0.9],[0,5,10,15,20,25,30],[0.5,0.6,0.7,0.8,0.9,1.0]];

// ---------- Xception ----------
const xcPrecTrain = [0.28,0.55,0.72,0.78,0.80,0.82,0.85,0.84,0.86,0.89, 0.88,0.86,0.90,0.91,0.88,0.91,0.92,0.92,0.93,0.94, 0.95,0.95,0.96,0.97,0.97,0.99,0.99,0.97,0.93,0.96, 0.99,0.99,0.99,0.97,0.95,0.99,0.98,0.98,0.97,0.97];
const xcPrecVal = [0.40,0.55,0.60,0.62,0.62,0.55,0.50,0.61,0.60,0.71, 0.55,0.62,0.68,0.65,0.66,0.68,0.55,0.70,0.64,0.68, 0.72,0.70,0.70,0.69,0.73,0.72,0.74,0.68,0.72,0.73, 0.70,0.69,0.72,0.62,0.72,0.70,0.72,0.73,0.56,0.66];
const xcRecTrain = [0.25,0.35,0.45,0.52,0.60,0.62,0.72,0.75,0.82,0.85, 0.84,0.88,0.86,0.90,0.88,0.92,0.90,0.92,0.94,0.93, 0.95,0.96,0.97,0.98,1.0,0.98,0.99,0.93,0.96,0.99, 1.0,0.99,0.99,0.95,0.99,0.98,0.99,0.98,0.97,0.96];
const xcRecVal = [0.35,0.30,0.45,0.38,0.48,0.46,0.44,0.50,0.62,0.68, 0.55,0.60,0.58,0.68,0.66,0.60,0.50,0.68,0.66,0.70, 0.68,0.70,0.72,0.70,0.72,0.70,0.72,0.66,0.73,0.72, 0.70,0.69,0.72,0.62,0.72,0.70,0.72,0.70,0.55,0.66];
const xcAccTrain = [0.28,0.50,0.62,0.70,0.75,0.78,0.80,0.81,0.85,0.86, 0.84,0.88,0.89,0.90,0.91,0.92,0.91,0.93,0.94,0.94, 0.95,0.96,0.97,0.98,0.98,0.99,0.98,0.93,0.96,0.99, 0.99,0.99,0.98,0.95,0.99,0.99,0.98,0.98,0.97,0.97];
const xcAccVal = [0.40,0.38,0.52,0.50,0.53,0.48,0.47,0.55,0.60,0.68, 0.58,0.62,0.60,0.68,0.66,0.68,0.50,0.68,0.66,0.70, 0.68,0.72,0.70,0.70,0.73,0.72,0.72,0.68,0.72,0.73, 0.70,0.68,0.72,0.62,0.72,0.70,0.72,0.72,0.56,0.66];
const xcLossTrain = [6.5,1.6,1.0,0.85,0.75,0.7,0.65,0.6,0.55,0.5, 0.48,0.45,0.42,0.4,0.38,0.36,0.35,0.32,0.3,0.28, 0.26,0.25,0.22,0.2,0.2,0.18,0.2,0.15,0.15,0.12, 0.12,0.1,0.1,0.1,0.08,0.12,0.08,0.07,0.06,0.05];
const xcLossVal = [5.2,1.2,1.3,1.5,1.4,1.6,1.8,1.6,2.0,2.5, 3.1,2.3,2.4,2.2,2.7,2.4,2.3,2.1,2.5,2.0, 2.7,2.6,2.8,3.4,3.3,3.2,3.4,2.9,2.8,2.6, 2.8,3.9,3.0,3.5,4.0,3.6,3.8,4.1,4.6,4.3];
const xcAucTrain = [0.53,0.72,0.82,0.88,0.91,0.93,0.95,0.95,0.96,0.97, 0.97,0.97,0.98,0.97,0.98,0.98,0.98,0.98,0.99,0.99, 0.99,0.99,0.99,0.99,1.0,0.99,1.0,1.0,1.0,1.0, 1.0,1.0,1.0,0.99,1.0,1.0,1.0,1.0,1.0,1.0];
const xcAucVal = [0.63,0.76,0.77,0.78,0.80,0.78,0.80,0.84,0.82,0.85, 0.82,0.85,0.85,0.84,0.85,0.85,0.86,0.85,0.84,0.86, 0.87,0.86,0.86,0.87,0.86,0.87,0.88,0.87,0.86,0.88, 0.87,0.87,0.86,0.86,0.78,0.87,0.85,0.87,0.76,0.82];
const xcTicks = [[0.3,0.4,0.5,0.6,0.7,0.8,0.9,1.0],[0.4,0.6,0.8,1.0],[0.3,0.4,0.5,0.6,0.7,0.8,0.9,1.0],[0,1,2,3,4,5,6],[0.6,0.7,0.8,0.9,1.0]];

// legend placement per row (precision, recall, accuracy, loss, auc)
const LEGEND_DEFAULT = ['lr', 'lr', 'lr', 'ur', 'lr'];
const LEGEND_D169 = ['lc', 'lc', 'lr', 'ur', 'lr'];
const LEGEND_MOBILE = ['lr', 'lr', 'lr', 'cr', 'lr'];
const LEGEND_INCEPTION = ['lr', 'ul', 'lr', 'ur', 'lr'];

const ROWS = [
  { name: MODELS[0], train: [v16PrecTrain, v16RecTrain, v16AccTrain, v16LossTrain, v16AucTrain], val: [v16PrecVal, v16RecVal, v16AccVal, v16LossVal, v16AucVal], ticks: v16Ticks, legend: LEGEND_DEFAULT, boxW: 48 },
  { name: MODELS[1], train: [v19PrecTrain, v19RecTrain, v19AccTrain, v19LossTrain, v19AucTrain], val: [v19PrecVal, v19RecVal, v19AccVal, v19LossVal, v19AucVal], ticks: v19Ticks, legend: LEGEND_DEFAULT, boxW: 48 },
  { name: MODELS[2], train: [r50PrecTrain, r50RecTrain, r50AccTrain, r50LossTrain, r50AucTrain], val: [r50PrecVal, r50RecVal, r50AccVal, r50LossVal, r50AucVal], ticks: r50Ticks, legend: LEGEND_DEFAULT, boxW: 48 },
  { name: MODELS[3], train: [r101PrecTrain, r101RecTrain, r101AccTrain, r101LossTrain, r101AucTrain], val: [r101PrecVal, r101RecVal, r101AccVal, r101LossVal, r101AucVal], ticks: r101Ticks, legend: LEGEND_DEFAULT, boxW: 50 },
  { name: MODELS[4], train: [r152PrecTrain, r152RecTrain, r152AccTrain, r152LossTrain, r152AucTrain], val: [r152PrecVal, r152RecVal, r152AccVal, r152LossVal, r152AucVal], ticks: r152Ticks, legend: LEGEND_DEFAULT, boxW: 50 },
  { name: MODELS[5], train: [d121PrecTrain, d121RecTrain, d121AccTrain, d121LossTrain, d121AucTrain], val: [d121PrecVal, d121RecVal, d121AccVal, d121LossVal, d121AucVal], ticks: d121Ticks, legend: LEGEND_DEFAULT, boxW: 64 },
  { name: MODELS[6], train: [d169PrecTrain, d169RecTrain, d169AccTrain, d169LossTrain, d169AucTrain], val: [d169PrecVal, d169RecVal, d169AccVal, d169LossVal, d169AucVal], ticks: d169Ticks, legend: LEGEND_D169, boxW: 64 },
  { name: MODELS[7], train: [d201PrecTrain, d201RecTrain, d201AccTrain, d201LossTrain, d201AucTrain], val: [d201PrecVal, d201RecVal, d201AccVal, d201LossVal, d201AucVal], ticks: d201Ticks, legend: LEGEND_DEFAULT, boxW: 64 },
  { name: MODELS[8], train: [mbPrecTrain, mbRecTrain, mbAccTrain, mbLossTrain, mbAucTrain], val: [mbPrecVal, mbRecVal, mbAccVal, mbLossVal, mbAucVal], ticks: mbTicks, legend: LEGEND_MOBILE, boxW: 52 },
  { name: MODELS[9], train: [incPrecTrain, incRecTrain, incAccTrain, incLossTrain, incAucTrain], val: [incPrecVal, incRecVal, incAccVal, incLossVal, incAucVal], ticks: incTicks, legend: LEGEND_INCEPTION, boxW: 48 },
  { name: MODELS[10], train: [xcPrecTrain, xcRecTrain, xcAccTrain, xcLossTrain, xcAucTrain], val: [xcPrecVal, xcRecVal, xcAccVal, xcLossVal, xcAucVal], ticks: xcTicks, legend: LEGEND_DEFAULT, boxW: 48 },
];

// ---------- styles / layout ----------
const BLUE = '#1f77b4';
const ORANGE = '#ff7f0e';
const FONT = '"DejaVu Sans", "Liberation Sans", sans-serif';
const TEXT = '#333';
const AXIS = '#555';
const ROW_H = 122.6;
const COLS = [
  { left: 12, width: 134 },
  { left: 148, width: 135 },
  { left: 285, width: 129 },
  { left: 416, width: 131 },
  { left: 550, width: 126 },
];
const CANVAS_TOP = 9;
const CANVAS_H = 109;

const framePlugin = {
  id: 'frameBox',
  afterDatasetsDraw(chart: any) {
    const { ctx, chartArea: a } = chart;
    ctx.save();
    ctx.strokeStyle = AXIS;
    ctx.lineWidth = 0.8;
    ctx.strokeRect(a.left, a.top, a.right - a.left, a.bottom - a.top);
    ctx.restore();
  },
};

function makeLegendPlugin(pos: string) {
  return {
    id: 'insideLegend',
    afterDraw(chart: any) {
      const { ctx, chartArea: a } = chart;
      const w = 32, h = 15, m = 2.5;
      let x = a.right - w - m;
      let y = a.bottom - h - m;
      if (pos === 'ur') { y = a.top + m; }
      else if (pos === 'ul') { x = a.left + m; y = a.top + m; }
      else if (pos === 'lc') { x = (a.left + a.right) / 2 - w / 2; }
      else if (pos === 'cr') { y = (a.top + a.bottom) / 2 - h / 2 - 6; }
      ctx.save();
      ctx.beginPath();
      const r = 1.5;
      ctx.moveTo(x + r, y);
      ctx.lineTo(x + w - r, y);
      ctx.quadraticCurveTo(x + w, y, x + w, y + r);
      ctx.lineTo(x + w, y + h - r);
      ctx.quadraticCurveTo(x + w, y + h, x + w - r, y + h);
      ctx.lineTo(x + r, y + h);
      ctx.quadraticCurveTo(x, y + h, x, y + h - r);
      ctx.lineTo(x, y + r);
      ctx.quadraticCurveTo(x, y, x + r, y);
      ctx.closePath();
      ctx.fillStyle = 'rgba(255,255,255,0.85)';
      ctx.fill();
      ctx.strokeStyle = '#d6d6d6';
      ctx.lineWidth = 0.7;
      ctx.stroke();
      chart.data.datasets.forEach((ds: any, i: number) => {
        const yy = y + 4.2 + i * 6.5;
        ctx.strokeStyle = ds.borderColor;
        ctx.lineWidth = 1.2;
        ctx.beginPath();
        ctx.moveTo(x + 3, yy);
        ctx.lineTo(x + 13, yy);
        ctx.stroke();
        ctx.fillStyle = TEXT;
        ctx.font = `5.5px ${FONT}`;
        ctx.textBaseline = 'middle';
        ctx.textAlign = 'left';
        ctx.fillText(ds.label, x + 16, yy + 0.3);
      });
      ctx.restore();
    },
  };
}

function decimalsOf(ticks: number[]) {
  return Math.max(...ticks.map((t) => (String(t).split('.')[1] || '').length));
}

function buildConfig(metric: string, train: number[], val: number[], ticks: number[], legendPos: string) {
  const all = train.concat(val);
  const lo = Math.min(...all);
  const hi = Math.max(...all);
  const pad = (hi - lo) * 0.05;
  const yMin = lo - pad;
  const yMax = hi + pad;
  const dec = decimalsOf(ticks);
  const tickFont = { family: FONT, size: 5 };
  const grid = { display: true, drawOnChartArea: false, drawTicks: true, tickLength: 2, color: AXIS, lineWidth: 0.6 };
  return {
    type: 'line',
    data: {
      datasets: [
        { label: SERIES[0], data: train.map((v, i) => ({ x: i, y: v })), borderColor: BLUE, backgroundColor: BLUE, borderWidth: 1.1, pointRadius: 0, tension: 0, fill: false },
        { label: SERIES[1], data: val.map((v, i) => ({ x: i, y: v })), borderColor: ORANGE, backgroundColor: ORANGE, borderWidth: 1.1, pointRadius: 0, tension: 0, fill: false },
      ],
    },
    options: {
      responsive: false,
      animation: false,
      events: [],
      layout: { padding: { left: 1, right: 3, top: 0, bottom: 0 } },
      plugins: {
        legend: { display: false },
        tooltip: { enabled: false },
        title: { display: true, text: 'Model ' + metric, color: '#222', font: { family: FONT, size: 6.5, weight: 'normal' }, padding: { top: 3, bottom: 3 } },
      },
      scales: {
        x: {
          type: 'linear',
          min: -1.95,
          max: 40.95,
          afterBuildTicks: (axis: any) => { axis.ticks = EPOCH_TICKS.map((v) => ({ value: v })); },
          ticks: { font: tickFont, color: TEXT, padding: 1, maxRotation: 0, autoSkip: false, callback: (v: any) => String(v) },
          grid,
          border: { display: false },
          title: { display: true, text: 'epochs', color: TEXT, font: { family: FONT, size: 5 }, padding: { top: 1, bottom: 0 } },
        },
        y: {
          type: 'linear',
          min: yMin,
          max: yMax,
          afterBuildTicks: (axis: any) => { axis.ticks = ticks.filter((t) => t >= yMin - 1e-9 && t <= yMax + 1e-9).map((v) => ({ value: v })); },
          ticks: { font: tickFont, color: TEXT, padding: 1, autoSkip: false, callback: (v: any) => Number(v).toFixed(dec) },
          grid,
          border: { display: false },
          title: { display: true, text: metric, color: TEXT, font: { family: FONT, size: 5 }, padding: { top: 0, bottom: 1 } },
        },
      },
    },
    plugins: [framePlugin, makeLegendPlugin(legendPos)],
  };
}

function Panel(props: { left: number; top: number; width: number; height: number; metric: string; train: number[]; val: number[]; ticks: number[]; legendPos: string }) {
  const ref = useRef<HTMLCanvasElement | null>(null);
  useEffect(() => {
    if (!ref.current) return;
    const chart = new Chart(ref.current, buildConfig(props.metric, props.train, props.val, props.ticks, props.legendPos) as any);
    return () => chart.destroy();
  }, []);
  return (
    <canvas
      ref={ref}
      width={props.width}
      height={props.height}
      style={{ position: 'absolute', left: props.left, top: props.top, width: props.width, height: props.height }}
    />
  );
}

export default function App() {
  return (
    <div style={{ position: 'absolute', left: 0, top: 0, width: 682, height: 1358, background: '#fff', overflow: 'hidden' }}>
      <div style={{ position: 'absolute', left: 10, top: 4, width: 668, height: 1352, border: '1px solid #e4e4e4', boxSizing: 'border-box' }} />
      {ROWS.map((row, r) => {
        const T = Math.round(r * ROW_H);
        return (
          <React.Fragment key={row.name}>
            {METRICS.map((m, c) => (
              <Panel
                key={m}
                left={COLS[c].left}
                top={T + CANVAS_TOP}
                width={COLS[c].width}
                height={CANVAS_H}
                metric={m}
                train={row.train[c]}
                val={row.val[c]}
                ticks={row.ticks[c]}
                legendPos={row.legend[c]}
              />
            ))}
            <div
              style={{
                position: 'absolute',
                left: 358 - row.boxW / 2,
                top: T + 113,
                width: row.boxW,
                height: 19,
                background: '#5ca423',
                color: '#fff',
                fontFamily: '"Liberation Sans", Arial, sans-serif',
                fontSize: 9.5,
                lineHeight: '19px',
                textAlign: 'center',
                whiteSpace: 'nowrap',
              }}
            >
              {row.name}
            </div>
          </React.Fragment>
        );
      })}
    </div>
  );
}
